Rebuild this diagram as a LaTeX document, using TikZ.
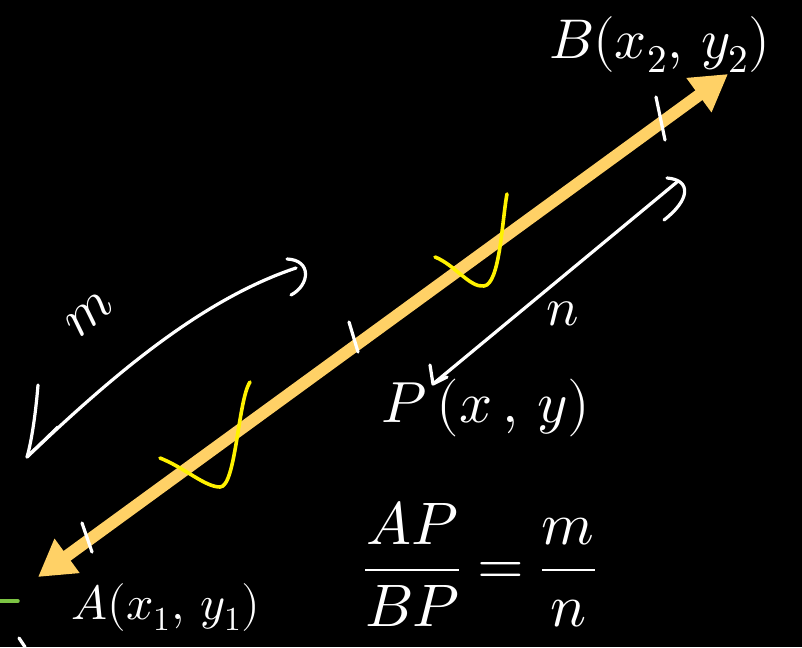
\documentclass[tikz,border=0pt]{standalone}
\usepackage{fontspec}
\usepackage{unicode-math}
\setmathfont{Latin Modern Math}
\usetikzlibrary{arrows.meta}
\definecolor{lineyel}{HTML}{FFD166}
\definecolor{chk}{HTML}{FFF200}
\definecolor{grn}{HTML}{7CC444}
\tikzset{
  chalk/.style={draw=white,line width=3.2pt,line cap=round,line join=round},
  tickmark/.style={draw=white,line width=3.2pt,line cap=round},
  checkmark/.style={draw=chk,line width=3.6pt,line cap=round,line join=round},
  lbl/.style={text=white,inner sep=0pt},
}
\begin{document}
\begin{tikzpicture}[x=1pt,y=-1pt]
\fill[black] (0,0) rectangle (802,647);
\useasboundingbox (0,0) rectangle (802,647);
% main line
\coordinate (A) at (38,577);
\coordinate (B) at (728,74);
\draw[lineyel,line width=12pt,{Triangle[length=36pt,width=40pt]}-{Triangle[length=36pt,width=40pt]}] (A) -- (B);
% ticks
\coordinate (ta1) at (82,523); \coordinate (ta2) at (92,552);
\coordinate (tp1) at (349,322); \coordinate (tp2) at (358,352);
\coordinate (tb1) at (656,97); \coordinate (tb2) at (665,140);
\draw[tickmark] (ta1) -- (ta2);
\draw[tickmark] (tp1) -- (tp2);
\draw[tickmark] (tb1) -- (tb2);
% check marks
\coordinate (c1a) at (160,458); \coordinate (c1b) at (220,487); \coordinate (c1c) at (250,382);
\draw[checkmark] (c1a) .. controls (185,468) and (205,487) .. (c1b) .. controls (236,487) and (238,400) .. (c1c);
\coordinate (c2a) at (435,257); \coordinate (c2b) at (484,286); \coordinate (c2c) at (507,194);
\draw[checkmark] (c2a) .. controls (455,265) and (470,288) .. (c2b) .. controls (500,284) and (502,220) .. (c2c);
% m arrow
\coordinate (mt) at (27,457); \coordinate (me) at (296,268);
\coordinate (mb1) at (38,385); \coordinate (mb2) at (58,427);
\coordinate (mh1) at (287,259); \coordinate (mh2) at (291,295);
\draw[chalk] (mt) .. controls (110,378) and (200,300) .. (me);
\draw[chalk] (mb1) .. controls (36,410) and (32,440) .. (mt) -- (mb2);
\draw[chalk] (mh1) .. controls (312,260) and (310,285) .. (mh2);
\node[lbl,rotate=40,font=\fontsize{56}{56}\selectfont] (mlab) at (90,314) {$m$};
% n arrow
\coordinate (nt) at (433,384); \coordinate (ne) at (677,182);
\coordinate (nb1) at (430,365); \coordinate (nb2) at (447,377);
\coordinate (nh1) at (667,178); \coordinate (nh2) at (664,220);
\draw[chalk] (nt) -- (ne);
\draw[chalk] (nb1) -- (nt) -- (nb2);
\draw[chalk] (nh1) .. controls (692,180) and (690,200) .. (nh2);
\node[lbl,font=\fontsize{54}{54}\selectfont] (nlab) at (563,314) {$n$};
% labels
\node[lbl,font=\fontsize{56}{56}\selectfont] (Blab) at (660,45) {$B(x_2,\,y_2)$};
\node[lbl,font=\fontsize{48}{48}\selectfont] (Alab) at (166,607) {$A(x_1,\,y_1)$};
\node[lbl,font=\fontsize{58}{58}\selectfont] (Plab) at (486,408) {$P\,(x\,,\,y)$};
\node[lbl,font=\fontsize{60}{60}\selectfont] (frac) at (480,564) {$\displaystyle\frac{AP}{BP}=\frac{m}{n}$};
% stray marks
\coordinate (g1) at (0,601); \coordinate (g2) at (18,601);
\draw[grn,line width=3.5pt,line cap=round] (g1) -- (g2);
\coordinate (s1) at (19,638); \coordinate (s2) at (25,647);
\draw[tickmark] (s1) -- (s2);
\end{tikzpicture}
\end{document}
